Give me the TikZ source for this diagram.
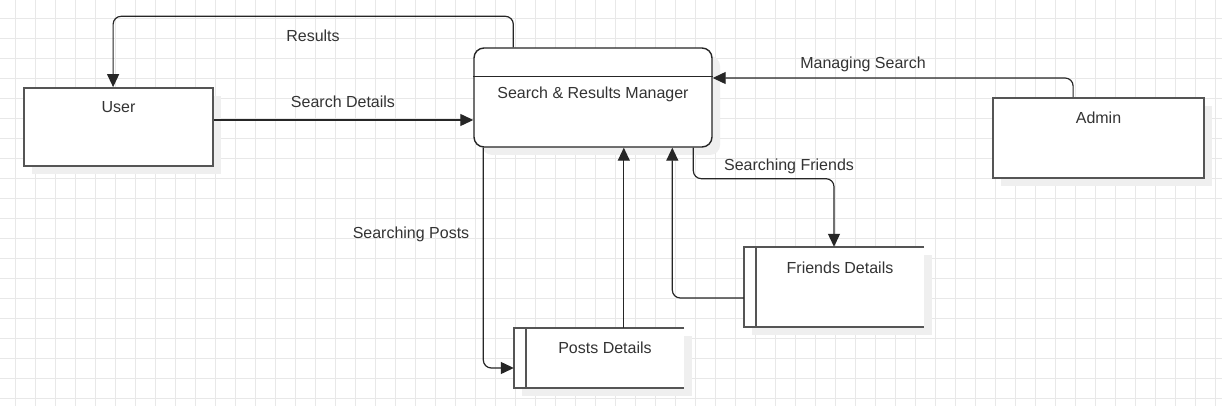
\documentclass[tikz,border=0pt]{standalone}
\usepackage{fontspec}
\setmainfont{Liberation Sans}
\usetikzlibrary{arrows.meta,shadows}
\definecolor{gridc}{HTML}{E8E8E8}
\definecolor{boxc}{HTML}{555555}
\definecolor{txtc}{HTML}{333333}
\definecolor{shadc}{HTML}{EFEFEF}
\begin{document}
\begin{tikzpicture}[x=1pt,y=-1pt,
  font=\fontsize{16}{19}\selectfont, text=txtc,
  shad/.style={drop shadow={shadow xshift=8pt,shadow yshift=-8pt,fill=shadc,opacity=1}},
  extbox/.style={draw=boxc,line width=1.8pt,fill=white,shad,inner sep=0pt},
  storebox/.style={draw=none,fill=white,shad,inner sep=0pt},
  storeline/.style={draw=boxc,line width=1.8pt},
  procbox/.style={draw=black!85,line width=1.4pt,fill=white,rounded corners=10pt,shad,inner sep=0pt},
  conn/.style={draw=black!85,line width=1.2pt,rounded corners=8pt,-{Triangle[length=13pt,width=12pt]}},
  flowlabel/.style={inner sep=1pt}
]
\useasboundingbox (0,0) rectangle (1222,406);
\fill[white] (0,0) rectangle (1222,406);
% grid
\foreach \gx in {15,35,...,1215} \draw[gridc,line width=0.8pt] (\gx,0) -- (\gx,406);
\foreach \gy in {18,38,...,398} \draw[gridc,line width=0.8pt] (0,\gy) -- (1222,\gy);

% entities
\node[extbox,minimum width=189pt,minimum height=78pt,
  label={[anchor=center,yshift=-19.5pt]north:User}] (user) at (118.5,127) {};
\node[extbox,minimum width=211pt,minimum height=80pt,
  label={[anchor=center,yshift=-20.5pt]north:Admin}] (admin) at (1098.5,138) {};

% process
\node[procbox,minimum width=238pt,minimum height=99pt,
  label={[anchor=center,yshift=-47pt]north:Search \& Results Manager}] (mgr) at (593,97.5) {};
\draw[black!85,line width=1.4pt] ([yshift=-29pt]mgr.north west) -- ([yshift=-29pt]mgr.north east);

% data stores
\node[storebox,minimum width=180pt,minimum height=80pt,
  label={[anchor=center,yshift=-20.5pt,xshift=6pt]north:Friends Details}] (fr) at (834,287) {};
\draw[storeline] (fr.north east) -- (fr.north west) -- (fr.south west) -- (fr.south east);
\draw[storeline] ([xshift=12pt]fr.north west) -- ([xshift=12pt]fr.south west);

\node[storebox,minimum width=170pt,minimum height=60pt,
  label={[anchor=center,yshift=-19.5pt,xshift=6pt]north:Posts Details}] (po) at (599,358) {};
\draw[storeline] (po.north east) -- (po.north west) -- (po.south west) -- (po.south east);
\draw[storeline] ([xshift=12pt]po.north west) -- ([xshift=12pt]po.south west);

% connectors
\draw[conn] ([xshift=40pt]mgr.north west) -- ++(0,-31) -| ([xshift=90pt]user.north west);
\draw[conn] ([yshift=7pt]user.east) -- ([yshift=7pt]user.east -| mgr.west);
\draw[conn] ([xshift=81pt]admin.north west) |- ([yshift=19.5pt]mgr.east);
\draw[conn] ([xshift=220pt]mgr.south west) -- ++(0,31) -| (fr.north);
\draw[conn] ([yshift=-11pt]fr.west) -| ([xshift=199pt]mgr.south west);
\draw[conn] ([xshift=110pt]po.north west) -- ([xshift=110pt]po.north west |- mgr.south);
\draw[conn] ([xshift=10pt]mgr.south west) |- ([yshift=-10pt]po.west);

% labels
\node[flowlabel] (lres) at (313,36) {Results};
\node[flowlabel] (lsd) at (343,101.5) {Search Details};
\node[flowlabel] (lms) at (863,64) {Managing Search};
\node[flowlabel] (lsf) at (789,166) {Searching Friends};
\node[flowlabel] (lsp) at (411,234.5) {Searching Posts};
\end{tikzpicture}
\end{document}
